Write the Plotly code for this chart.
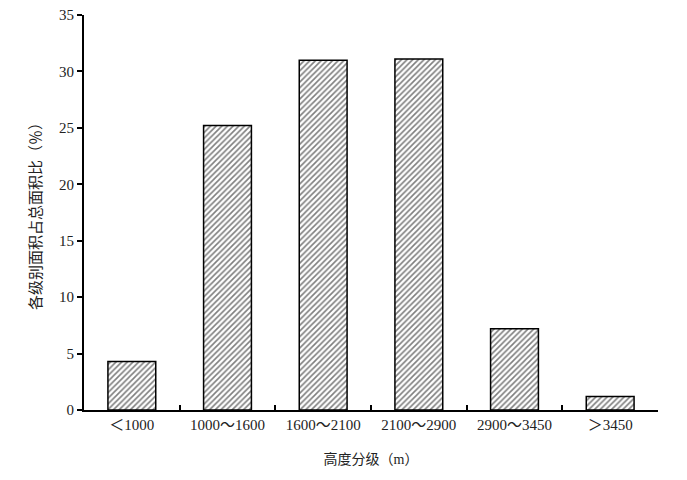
import plotly.graph_objects as go

categories = ["＜1000", "1000～1600", "1600～2100", "2100～2900", "2900～3450", "＞3450"]
values = [4.3, 25.2, 31.0, 31.1, 7.2, 1.2]
y_ticks = [0, 5, 10, 15, 20, 25, 30, 35]

font_family = "Liberation Serif, Noto Sans CJK SC, serif"

fig = go.Figure(go.Bar(
    x=categories, y=values, width=0.5,
    marker=dict(color="white", line=dict(color="black", width=1.5),
                pattern=dict(shape="/", size=4, solidity=0.4, fgcolor="black", bgcolor="white")),
))

fig.update_layout(
    width=687, height=480,
    margin=dict(l=76, r=37, t=7, b=78),
    plot_bgcolor="white", paper_bgcolor="white",
    font=dict(family=font_family, size=15, color="#222"),
    showlegend=False,
    xaxis=dict(
        automargin=False,
        showline=True, linecolor="black", linewidth=2,
        ticks="inside", ticklen=5, tickwidth=2, tickcolor="black",
        tickson="boundaries",
        title=dict(text="高度分级（m）", font=dict(size=14), standoff=22),
        tickfont=dict(size=15),
    ),
    yaxis=dict(
        automargin=False,
        range=[0, 35], tickvals=y_ticks,
        ticklabeloverflow="allow",
        showline=True, linecolor="black", linewidth=2,
        ticks="outside", ticklen=5, tickwidth=2, tickcolor="black",
        showgrid=False, zeroline=False,
        title=dict(text="各级别面积占总面积比（％）", font=dict(size=15), standoff=14),
        tickfont=dict(size=15),
    ),
)

fig.write_html("out.html")
